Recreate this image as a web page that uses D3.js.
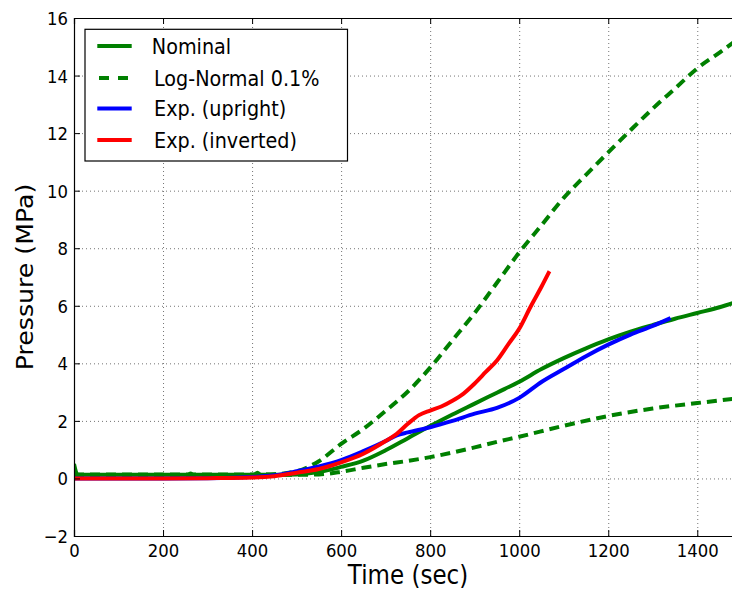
<!DOCTYPE html>
<html>
<head>
<meta charset="utf-8">
<script src="https://cdn.jsdelivr.net/npm/d3@7"></script>
<style>
  html, body { margin: 0; padding: 0; background: #fff; }
  svg { display: block; font-family: "DejaVu Sans", sans-serif; }
</style>
</head>
<body>
<svg id="chart" width="732" height="591"></svg>
<script>
// Pressure history: nominal model, log-normal 0.1% bounds and two experiments
const nominalTime   = [0, 8, 100, 200, 255, 262, 268, 350, 405, 412, 419, 450, 500, 550, 600, 650, 700, 750, 800, 850, 900, 950, 1000, 1050, 1100, 1150, 1200, 1250, 1300, 1350, 1400, 1450, 1500];
const nominalP      = [0.5, 0.13, 0.13, 0.13, 0.13, 0.17, 0.13, 0.13, 0.13, 0.2, 0.13, 0.13, 0.14, 0.22, 0.4, 0.62, 0.98, 1.4, 1.82, 2.22, 2.6, 2.98, 3.36, 3.8, 4.18, 4.52, 4.83, 5.1, 5.33, 5.55, 5.75, 5.95, 6.2];

const upperTime     = [0, 100, 200, 300, 400, 450, 500, 550, 600, 650, 700, 750, 800, 850, 900, 950, 1000, 1050, 1100, 1150, 1200, 1250, 1300, 1350, 1400, 1450, 1500];
const upperP        = [0.13, 0.13, 0.13, 0.13, 0.13, 0.15, 0.25, 0.6, 1.2, 1.72, 2.35, 3.02, 3.85, 4.8, 5.75, 6.8, 7.85, 8.8, 9.75, 10.55, 11.33, 12.1, 12.85, 13.55, 14.25, 14.8, 15.37];

const lowerTime     = [0, 100, 200, 300, 400, 450, 500, 550, 600, 650, 700, 750, 800, 850, 900, 950, 1000, 1100, 1200, 1300, 1400, 1500];
const lowerP        = [0.13, 0.13, 0.13, 0.13, 0.13, 0.13, 0.13, 0.14, 0.23, 0.37, 0.5, 0.61, 0.74, 0.9, 1.08, 1.27, 1.45, 1.83, 2.17, 2.43, 2.62, 2.8];

const uprightTime   = [0, 100, 200, 300, 400, 450, 500, 550, 600, 650, 700, 725, 750, 800, 850, 900, 950, 1000, 1050, 1100, 1150, 1200, 1250, 1300, 1340];
const uprightP      = [0.0, 0.0, 0.0, 0.01, 0.05, 0.11, 0.25, 0.42, 0.64, 0.95, 1.3, 1.5, 1.6, 1.78, 2.0, 2.25, 2.45, 2.8, 3.35, 3.8, 4.25, 4.65, 5.0, 5.3, 5.57];

const invertedTime  = [0, 100, 200, 300, 400, 450, 500, 550, 600, 650, 700, 725, 750, 775, 800, 825, 850, 875, 900, 925, 950, 975, 1000, 1025, 1050, 1068];
const invertedP     = [0.0, 0.0, 0.0, 0.01, 0.03, 0.08, 0.2, 0.33, 0.56, 0.86, 1.3, 1.55, 1.9, 2.2, 2.36, 2.5, 2.7, 2.95, 3.3, 3.7, 4.1, 4.65, 5.2, 5.95, 6.66, 7.2];

const xTicks = [0, 200, 400, 600, 800, 1000, 1200, 1400];
const yTicks = [-2, 0, 2, 4, 6, 8, 10, 12, 14, 16];

const legendLabels = ["Nominal", "Log-Normal 0.1%", "Exp. (upright)", "Exp. (inverted)"];

// text is drawn slightly taller than wide
const SY = 1.12;

const svg = d3.select("#chart");
const margin = { left: 74, top: 18 };
const plotW = 667.8, plotH = 518;

const x = d3.scaleLinear().domain([0, 1500]).range([0, plotW]);
const y = d3.scaleLinear().domain([-2, 16]).range([plotH, 0]);

const g = svg.append("g").attr("transform", `translate(${margin.left},${margin.top})`);

g.append("clipPath").attr("id", "plotclip")
  .append("rect").attr("width", plotW).attr("height", plotH);

// dotted grid
const gridX = g.append("g").attr("class", "grid")
  .attr("transform", `translate(0,${plotH})`)
  .call(d3.axisBottom(x).tickValues(xTicks).tickSize(-plotH).tickFormat(""));
const gridY = g.append("g").attr("class", "grid")
  .call(d3.axisLeft(y).tickValues(yTicks).tickSize(-plotW).tickFormat(""));
[gridX, gridY].forEach(s => {
  s.select(".domain").remove();
  s.selectAll("line")
    .attr("stroke", "#000").attr("stroke-opacity", 0.55)
    .attr("stroke-width", 1).attr("stroke-dasharray", "1,3");
});

// curves
const line = d3.line()
  .x(d => x(d[0])).y(d => y(d[1]))
  .curve(d3.curveMonotoneX);

const zip = (a, b) => a.map((v, i) => [v, b[i]]);

const curves = g.append("g").attr("clip-path", "url(#plotclip)");
const series = [
  { t: upperTime,    p: upperP,    color: "#008000", dash: "10,6" },
  { t: lowerTime,    p: lowerP,    color: "#008000", dash: "10,6" },
  { t: nominalTime,  p: nominalP,  color: "#008000", dash: null },
  { t: uprightTime,  p: uprightP,  color: "#0000ff", dash: null },
  { t: invertedTime, p: invertedP, color: "#ff0000", dash: null }
];
series.forEach(s => {
  curves.append("path")
    .datum(zip(s.t, s.p))
    .attr("d", line)
    .attr("fill", "none")
    .attr("stroke", s.color)
    .attr("stroke-width", 4)
    .attr("stroke-linejoin", "round")
    .attr("stroke-dasharray", s.dash);
});

// axes with inward ticks
const fmt = d3.format("d");
const axB = g.append("g").attr("transform", `translate(0,${plotH})`)
  .call(d3.axisBottom(x).tickValues(xTicks).tickSize(-6).tickFormat(fmt));
const axT = g.append("g")
  .call(d3.axisTop(x).tickValues(xTicks).tickSize(-6).tickFormat(""));
const axL = g.append("g")
  .call(d3.axisLeft(y).tickValues(yTicks).tickSize(-6).tickFormat(fmt));
const axR = g.append("g").attr("transform", `translate(${plotW},0)`)
  .call(d3.axisRight(y).tickValues(yTicks).tickSize(-6).tickFormat(""));

[axB, axT, axL, axR].forEach(a => {
  a.select(".domain").attr("stroke", "#000").attr("stroke-width", 1.2);
  a.selectAll(".tick line").attr("stroke", "#000").attr("stroke-width", 1);
});

axB.selectAll(".tick text")
  .attr("y", null).attr("dy", null)
  .attr("font-size", 16.5).attr("fill", "#000")
  .attr("font-family", "DejaVu Sans, sans-serif")
  .attr("transform", `translate(0,20.7) scale(1,${SY})`);

axL.selectAll(".tick text")
  .attr("x", null).attr("dy", null)
  .attr("font-size", 16.5).attr("fill", "#000")
  .attr("font-family", "DejaVu Sans, sans-serif")
  .attr("text-anchor", "end")
  .attr("transform", `translate(-6,6.5) scale(1,${SY})`);

// axis titles
svg.append("text")
  .attr("transform", `translate(408,584) scale(1,${SY})`)
  .attr("text-anchor", "middle")
  .attr("font-size", 23)
  .text("Time (sec)");

svg.append("text")
  .attr("transform", `translate(33,277) scale(1,${SY}) rotate(-90)`)
  .attr("text-anchor", "middle")
  .attr("font-size", 22.5)
  .text("Pressure (MPa)");

// legend
const legend = svg.append("g");
legend.append("rect")
  .attr("x", 85).attr("y", 29.3)
  .attr("width", 262.5).attr("height", 131.7)
  .attr("fill", "#fff").attr("stroke", "#000").attr("stroke-width", 1.2);

const legendRows = [46, 78, 108.5, 140];
const legendStyle = [
  { color: "#008000", dash: null },
  { color: "#008000", dash: "10,9" },
  { color: "#0000ff", dash: null },
  { color: "#ff0000", dash: null }
];
legendLabels.forEach((label, i) => {
  const cy = legendRows[i];
  legend.append("line")
    .attr("x1", legendStyle[i].dash ? 99 : 97.3).attr("x2", 131.7)
    .attr("y1", cy).attr("y2", cy)
    .attr("stroke", legendStyle[i].color)
    .attr("stroke-width", 4)
    .attr("stroke-dasharray", legendStyle[i].dash);
  legend.append("text")
    .attr("transform", `translate(${i === 0 ? 151.8 : 154},${cy + 7.7}) scale(1,${SY})`)
    .attr("font-size", 19.2)
    .text(label);
});
</script>
</body>
</html>
